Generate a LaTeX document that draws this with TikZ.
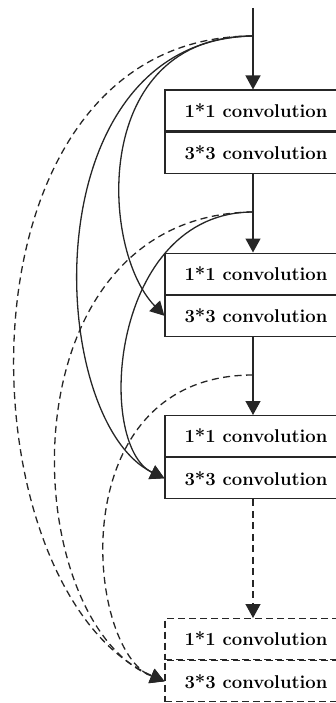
\documentclass[tikz,border=0pt]{standalone}
\usetikzlibrary{arrows.meta}
\tikzset{
  convbox/.style={draw=black!85, line width=1.2pt, minimum width=182pt, minimum height=41pt,
    inner sep=0pt, anchor=north, font=\fontsize{18.5}{22}\selectfont\bfseries, fill=white},
  dbox/.style={convbox, dash pattern=on 7pt off 4pt},
  conn/.style={draw=black!85, line width=1.3pt, -{Triangle[length=14pt,width=15pt]}},
  dconn/.style={conn, dash pattern=on 7pt off 4.5pt}
}
\begin{document}
\begin{tikzpicture}[x=1pt,y=-1pt]
\useasboundingbox (0,0) rectangle (336,703);
\clip (0,0) rectangle (336,703);
% boxes
\node[convbox] (b1a) at (256,89.5) {1*1 convolution};
\node[convbox] (b1b) at (b1a.south) {3*3 convolution};
\node[convbox] (b2a) at (256,252.5) {1*1 convolution};
\node[convbox] (b2b) at (b2a.south) {3*3 convolution};
\node[convbox] (b3a) at (256,415) {1*1 convolution};
\node[convbox] (b3b) at (b3a.south) {3*3 convolution};
\node[dbox] (b4a) at (256,618) {1*1 convolution};
\node[dbox] (b4b) at (b4a.south) {3*3 convolution};
% coordinates
\coordinate (top) at (253,8);
\coordinate (s1) at (253,36);
\coordinate (s2) at (253,212);
\coordinate (s3) at (253,375);
% main flow
\draw[conn] (top) -- (top |- b1a.north);
\draw[conn] (top |- b1b.south) -- (top |- b2a.north);
\draw[conn] (top |- b2b.south) -- (top |- b3a.north);
\draw[dconn] (top |- b3b.south) -- (top |- b4a.north);
% skip connections from s1
\draw[conn] (s1) .. controls (90,36) and (100,250) .. (b2b.west);
\draw[conn] (s1) .. controls (30,40) and (45,420) .. (b3b.west);
\draw[dconn] (s1) .. controls (-55,36) and (-40,590) .. (b4b.west);
% from s2
\draw[conn] (s2) .. controls (110,212) and (95,445) .. (b3b.west);
\draw[dconn] (s2) .. controls (0,215) and (15,620) .. (b4b.west);
% from s3
\draw[dconn] (s3) .. controls (60,375) and (85,650) .. (b4b.west);
\end{tikzpicture}
\end{document}
